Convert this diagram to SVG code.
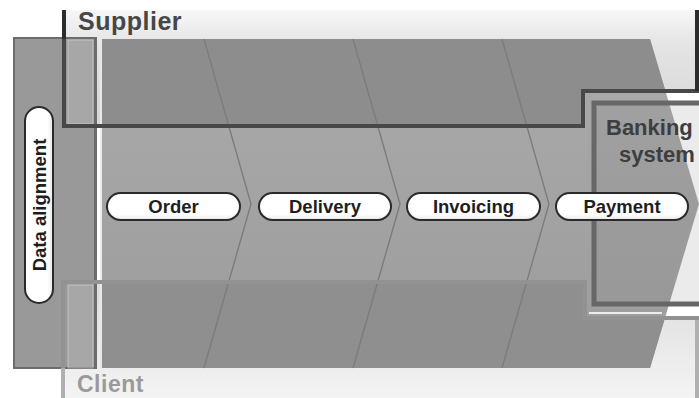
<svg xmlns="http://www.w3.org/2000/svg" width="699" height="398" viewBox="0 0 699 398">
<defs>
<linearGradient id="gSupBg" x1="0" y1="0" x2="0" y2="1"><stop offset="0" stop-color="#f7f7f7"/><stop offset="0.3" stop-color="#e4e4e4"/><stop offset="1" stop-color="#d6d6d6"/></linearGradient>
<linearGradient id="gCliBg" x1="0" y1="0" x2="0" y2="1"><stop offset="0" stop-color="#dcdcdc"/><stop offset="1" stop-color="#f4f4f4"/></linearGradient>
<linearGradient id="gMid" x1="0" y1="0" x2="0" y2="1"><stop offset="0" stop-color="#aaaaaa"/><stop offset="1" stop-color="#9c9c9c"/></linearGradient>
<linearGradient id="gPill" x1="0" y1="0" x2="0" y2="1"><stop offset="0" stop-color="#ffffff"/><stop offset="0.8" stop-color="#ffffff"/><stop offset="1" stop-color="#e6e6e6"/></linearGradient>
<linearGradient id="gPillV" x1="0" y1="0" x2="1" y2="0"><stop offset="0" stop-color="#ffffff"/><stop offset="0.8" stop-color="#ffffff"/><stop offset="1" stop-color="#e6e6e6"/></linearGradient>
<clipPath id="cBand"><path d="M100,39 H650 L699,204 L650,368 H100 Z"/></clipPath>
</defs>
<style>
.lbl{font-family:"Liberation Sans",Arial,sans-serif;font-weight:bold;}
.pill{fill:url(#gPill);stroke:#2a2a2a;stroke-width:2;}
.ptxt{font-size:18.5px;fill:#1e1e1e;text-anchor:middle;}
.div{fill:none;stroke:#7c7c7c;stroke-width:1.4;}
.stripe{fill:#ffffff;fill-opacity:0.14;stroke:#ffffff;stroke-opacity:0.35;stroke-width:1;}
</style>
<rect width="699" height="398" fill="#ffffff"/>
<g id="supplier-bg">
<path d="M64,10 H697 V92 H583 V126 H64 Z" fill="url(#gSupBg)"/>
</g>
<g id="client-bg">
<path d="M63,282 H585 V318 H697 V398 H63 Z" fill="url(#gCliBg)"/>
</g>
<g id="data-alignment-panel">
<rect x="14" y="38" width="82" height="330" fill="#999999" stroke="#6c6c6c" stroke-width="2"/>
</g>
<g id="band">
<path d="M100,39 H650 L699,204 L650,368 H100 Z" fill="url(#gMid)"/>
<g clip-path="url(#cBand)">
<path d="M64,10 H697 V92 H583 V126 H64 Z" fill="#8d8d8d"/>
<path d="M63,282 H585 V318 H697 V398 H63 Z" fill="#8f8f8f"/>
</g>
</g>
<g id="banking-fill">
<rect x="594" y="103" width="110" height="201" fill="#787878" fill-opacity="0.15"/>
</g>
<g id="stripes">
<rect class="stripe" x="68" y="40" width="25" height="84"/>
<rect class="stripe" x="68" y="285" width="25" height="83"/>
<line x1="101" y1="39" x2="101" y2="368" stroke="#ffffff" stroke-opacity="0.8" stroke-width="2"/>
<line x1="95" y1="39" x2="95" y2="368" stroke="#6c6c6c" stroke-width="2"/>
</g>
<g id="connectors">
<path class="div" d="M204,39 L251,204 L204,368"/>
<path class="div" d="M353,39 L400,204 L353,368"/>
<path class="div" d="M502,39 L549,204 L502,368"/>
<path d="M64,10 V126 H583 V91 H697 V10" fill="none" stroke="#484848" stroke-width="4"/>
<path d="M64,10 V39 M697,10 V91" fill="none" stroke="#2c2c2c" stroke-width="4"/>
<path d="M63,398 V282 H585 V318 H697 V398" fill="none" stroke="#929292" stroke-width="4"/>
<path d="M63,368 V398 M697,320 V398" fill="none" stroke="#b0b0b0" stroke-width="4"/>
<line x1="589" y1="313" x2="662" y2="313" stroke="#ffffff" stroke-opacity="0.8" stroke-width="2"/>
</g>
<g id="banking-system">
<path d="M704,103 H594 V304 H704" fill="none" stroke="#676767" stroke-width="5"/>
<text class="lbl" x="606" y="135" font-size="22" fill="#3e3e3e">Banking</text>
<text class="lbl" x="619" y="162" font-size="22" fill="#3e3e3e">system</text>
</g>
<g id="supplier">
<text class="lbl" x="78" y="30" font-size="25" fill="#474747" letter-spacing="0.5">Supplier</text>
</g>
<g id="client">
<text class="lbl" x="77" y="392" font-size="23" fill="#9a9a9a" letter-spacing="0.5">Client</text>
</g>
<g id="data-alignment">
<rect x="25" y="107" width="28" height="196" rx="14" fill="url(#gPillV)" stroke="#2a2a2a" stroke-width="2"/>
<text class="lbl" transform="translate(46,205) rotate(-90)" font-size="18.5" fill="#1e1e1e" text-anchor="middle">Data alignment</text>
</g>
<g id="order">
<rect class="pill" x="107" y="193" width="133" height="27" rx="13.5"/>
<text class="lbl ptxt" x="173.5" y="213">Order</text>
</g>
<g id="delivery">
<rect class="pill" x="259" y="193" width="132" height="27" rx="13.5"/>
<text class="lbl ptxt" x="325" y="213">Delivery</text>
</g>
<g id="invoicing">
<rect class="pill" x="407" y="193" width="133" height="27" rx="13.5"/>
<text class="lbl ptxt" x="473.5" y="213">Invoicing</text>
</g>
<g id="payment">
<rect class="pill" x="556" y="193" width="132" height="27" rx="13.5"/>
<text class="lbl ptxt" x="622" y="213">Payment</text>
</g>
</svg>
